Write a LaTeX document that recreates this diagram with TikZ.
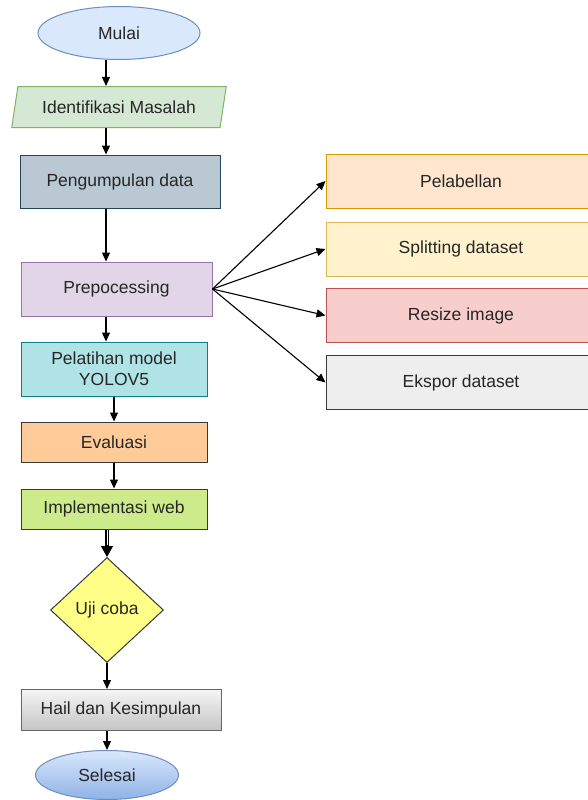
\documentclass[tikz,border=0pt]{standalone}
\usepackage{fontspec}
\setmainfont{Liberation Sans}
\usetikzlibrary{shapes.geometric,arrows.meta}
\definecolor{mulaiF}{HTML}{DAE8FC}\definecolor{mulaiD}{HTML}{6C8EBF}
\definecolor{identF}{HTML}{D5E8D4}\definecolor{identD}{HTML}{82B366}
\definecolor{pengF}{HTML}{BAC8D3}\definecolor{pengD}{HTML}{23445D}
\definecolor{prepF}{HTML}{E1D5E7}\definecolor{prepD}{HTML}{9673A6}
\definecolor{latihF}{HTML}{B0E3E6}\definecolor{latihD}{HTML}{0E8088}
\definecolor{evalF}{HTML}{FFCC99}\definecolor{darkD}{HTML}{36393D}
\definecolor{implF}{HTML}{CDEB8B}
\definecolor{ujiF}{HTML}{FFFF88}
\definecolor{hailT}{HTML}{F5F5F5}\definecolor{hailB}{HTML}{C4C4C4}\definecolor{hailD}{HTML}{666666}
\definecolor{selT}{HTML}{DAE8FC}\definecolor{selB}{HTML}{8FB2E6}
\definecolor{labelF}{HTML}{FFE6CC}\definecolor{labelD}{HTML}{D79B00}
\definecolor{splitF}{HTML}{FFF2CC}\definecolor{splitD}{HTML}{D6B656}
\definecolor{resizeF}{HTML}{F8CECC}\definecolor{resizeD}{HTML}{B85450}
\definecolor{eksporF}{HTML}{EEEEEE}
\begin{document}
\begin{tikzpicture}[x=1pt,y=-1pt,
  every node/.style={font=\fontsize{17.5}{21}\selectfont, text=black!85, line width=1pt, inner sep=0pt},
  box/.style={draw, rectangle},
  sidebox/.style={box, minimum width=270pt, minimum height=54pt},
  arr/.style={-{Triangle[length=9pt,width=8pt]}, line width=1.1pt}]
\fill[white] (0,0) rectangle (587,800);
\useasboundingbox (0,0) rectangle (587,800);

% main flow
\node[ellipse, draw=mulaiD, fill=mulaiF, minimum width=162pt, minimum height=53pt] (mulai) at (119,33) {Mulai};
\node[trapezium, trapezium left angle=70, trapezium right angle=110, trapezium stretches=true,
  draw=identD, fill=identF, minimum width=215pt, minimum height=41pt] (ident) at (119,107) {Identifikasi Masalah};
\node[box, draw=pengD, fill=pengF, minimum width=200pt, minimum height=53pt] (peng) at (120,181.5) {Pengumpulan data};
\node[box, draw=prepD, fill=prepF, minimum width=191pt, minimum height=54pt] (prep) at (116.5,289) {Prepocessing};
\node[box, draw=latihD, fill=latihF, minimum width=186pt, minimum height=54pt, align=center] (latih) at (114,369) {Pelatihan model\\YOLOV5};
\node[box, draw=darkD, fill=evalF, minimum width=186pt, minimum height=40pt] (eval) at (114,442) {Evaluasi};
\node[box, draw=darkD, fill=implF, minimum width=186pt, minimum height=40pt] (impl) at (114,509) {Implementasi web};
\node[diamond, draw=darkD, fill=ujiF, minimum width=113pt, minimum height=105pt] (uji) at (107,610) {Uji coba};
\node[box, draw=hailD, top color=hailT, bottom color=hailB, minimum width=200pt, minimum height=41pt] (hail) at (121,710) {Hail dan Kesimpulan};
\node[ellipse, draw=mulaiD, top color=selT, bottom color=selB, minimum width=143pt, minimum height=49pt] (selesai) at (107,775) {Selesai};

% preprocessing steps
\node[sidebox, draw=labelD, fill=labelF] (label) at (461,181) {Pelabellan};
\node[sidebox, draw=splitD, fill=splitF] (split) at (461,249) {Splitting dataset};
\node[sidebox, draw=resizeD, fill=resizeF] (resize) at (461,315.5) {Resize image};
\node[sidebox, draw=darkD, fill=eksporF] (ekspor) at (461,382.5) {Ekspor dataset};

\coordinate (col) at (106,0);
\draw[arr] (mulai.south -| col) -- (ident.north -| col);
\draw[arr] (ident.south -| col) -- (peng.north -| col);
\draw[arr] (peng.south -| col) -- (prep.north -| col);
\draw[arr] (prep.south -| col) -- (latih.north -| col);
\draw[arr] (latih.south) -- (eval.north);
\draw[arr] (eval.south) -- (impl.north);
% double shaft
\draw[line width=4.5pt, shorten >=9pt] (uji.north |- impl.south) -- (uji.north);
\draw[white, line width=1pt, shorten >=9pt] (uji.north |- impl.south) -- (uji.north);
\draw[-{Triangle[length=11pt,width=12pt]}, line width=1pt, shorten <=15pt] (uji.north |- impl.south) -- (uji.north);
\draw[arr] (uji.south) -- (uji.south |- hail.north);
\draw[arr] (selesai.north |- hail.south) -- (selesai.north);

\draw[arr] (prep.east) -- (label.west);
\draw[arr] (prep.east) -- (split.west);
\draw[arr] (prep.east) -- (resize.west);
\draw[arr] (prep.east) -- (ekspor.west);
\end{tikzpicture}
\end{document}
